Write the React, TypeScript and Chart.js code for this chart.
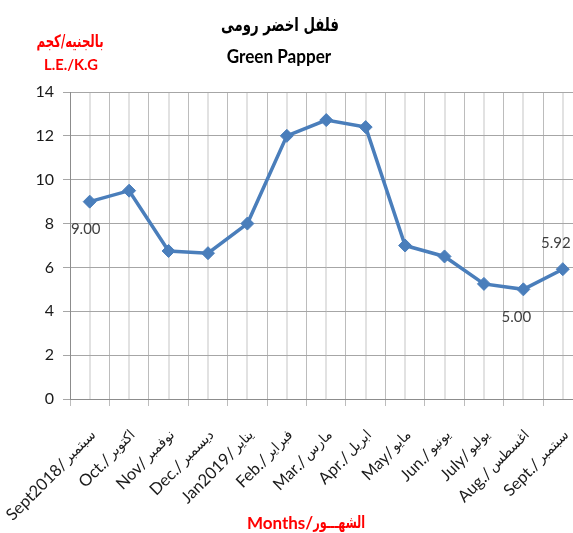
import React, { useEffect, useRef } from "react";
import { Chart, registerables } from "chart.js";

Chart.register(...registerables);

const monthsEn = [
  "Sept2018/",
  "Oct./",
  "Nov/",
  "Dec./",
  "Jan2019/",
  "Feb./",
  "Mar./",
  "Apr./",
  "May/",
  "Jun./",
  "July/",
  "Aug./",
  "Sept./",
];
const monthsAr = [
  "سبتمبر",
  "اكتوبر",
  "نوفمبر",
  "ديسمبر",
  "يناير",
  "فبراير",
  "مارس",
  "ابريل",
  "مايو",
  "يونيو",
  "يوليو",
  "اغسطس",
  "سبتمبر",
];
const months = monthsEn.map((m, i) => `${m} ${monthsAr[i]}`);
const prices = [9.0, 9.5, 6.75, 6.65, 8.0, 12.0, 12.72, 12.4, 7.0, 6.5, 5.25, 5.0, 5.92];
const yMin = 0;
const yMax = 14;
const yStep = 2;
const titleAr = "فلفل اخضر رومى";
const titleEn = "Green Papper";
const unitAr = "بالجنيه/كجم";
const unitEn = "L.E./K.G";
const xTitleEn = "Months/";
const xTitleAr = "الشهـــور";
const labeledPoints = [0, 11, 12];
const labelSides = ["below", "below", "above"];

const LATIN = "Lato, 'DejaVu Sans', sans-serif";
const ARABIC = "'DejaVu Sans', sans-serif";
const LINE_BLUE = "#4a7ebb";

type Part = { text: string; font: string; sx: number; gap?: number };

function partsWidth(ctx: CanvasRenderingContext2D, parts: Part[]) {
  let w = 0;
  for (const p of parts) {
    ctx.font = p.font;
    w += ctx.measureText(p.text).width * p.sx + (p.gap || 0);
  }
  return w;
}

// draws parts left-to-right, horizontally aligned by `align` around x=0
function drawParts(ctx: CanvasRenderingContext2D, parts: Part[], align: "center" | "right") {
  const total = partsWidth(ctx, parts);
  let cur = align === "center" ? -total / 2 : -total;
  ctx.textAlign = "left";
  for (const p of parts) {
    ctx.font = p.font;
    const w = ctx.measureText(p.text).width;
    ctx.save();
    ctx.translate(cur, 0);
    ctx.scale(p.sx, 1);
    ctx.fillText(p.text, 0, 0);
    ctx.restore();
    cur += w * p.sx + (p.gap || 0);
  }
}

const extraText = {
  id: "extraText",
  beforeDraw(chart: any) {
    const { ctx, chartArea, scales } = chart;
    const x = scales.x;
    ctx.save();
    ctx.strokeStyle = "#e2e2e2";
    ctx.lineWidth = 2;
    for (let i = 0; i < months.length; i++) {
      const px = Math.round(x.getPixelForValue(i));
      ctx.beginPath();
      ctx.moveTo(px, chartArea.top);
      ctx.lineTo(px, chartArea.bottom);
      ctx.stroke();
    }
    ctx.restore();
  },
  afterDraw(chart: any) {
    const { ctx, chartArea, scales } = chart;
    const x = scales.x;
    ctx.save();
    ctx.textBaseline = "middle";

    // x tick labels (Latin + Arabic), rotated -45deg, ending near the category center
    ctx.fillStyle = "#1a1a1a";
    for (let i = 0; i < months.length; i++) {
      const cx = x.getPixelForValue(i);
      ctx.save();
      ctx.translate(cx + 4, chartArea.bottom + 34);
      ctx.rotate(-Math.PI / 4);
      drawParts(
        ctx,
        [
          { text: monthsEn[i], font: `16.5px ${LATIN}`, sx: 1, gap: 2 },
          { text: monthsAr[i], font: `14px ${ARABIC}`, sx: 0.98 },
        ],
        "right"
      );
      ctx.restore();
    }

    // main title
    ctx.fillStyle = "#000";
    ctx.save();
    ctx.translate(280, 26);
    drawParts(ctx, [{ text: titleAr, font: `bold 19px ${ARABIC}`, sx: 0.7 }], "center");
    ctx.restore();
    ctx.save();
    ctx.translate(279, 57);
    drawParts(ctx, [{ text: titleEn, font: `bold 18px ${LATIN}`, sx: 0.95 }], "center");
    ctx.restore();

    // unit label
    ctx.fillStyle = "#ff0000";
    ctx.save();
    ctx.translate(70, 43);
    drawParts(ctx, [{ text: unitAr, font: `bold 17px ${ARABIC}`, sx: 0.69 }], "center");
    ctx.restore();
    ctx.save();
    ctx.translate(71, 65);
    drawParts(ctx, [{ text: unitEn, font: `bold 16px ${LATIN}`, sx: 0.92 }], "center");
    ctx.restore();

    // x axis title
    ctx.save();
    ctx.translate(306, 524);
    drawParts(
      ctx,
      [
        { text: xTitleEn, font: `bold 17px ${LATIN}`, sx: 1 },
        { text: xTitleAr, font: `bold 17px ${ARABIC}`, sx: 0.66 },
      ],
      "center"
    );
    ctx.restore();

    // data labels
    const meta = chart.getDatasetMeta(0);
    ctx.fillStyle = "#404040";
    ctx.font = `15px ${LATIN}`;
    ctx.textAlign = "center";
    labeledPoints.forEach((idx, k) => {
      const el = meta.data[idx];
      if (!el) return;
      const dy = labelSides[k] === "above" ? -26 : 28;
      const dx = idx === 0 ? -4 : -7;
      ctx.fillText(prices[idx].toFixed(2), el.x + dx, el.y + dy);
    });
    ctx.restore();
  },
};

export default function App() {
  const ref = useRef<HTMLCanvasElement | null>(null);
  useEffect(() => {
    document.body.style.margin = "0";
    document.body.style.overflow = "hidden";
    const canvas = ref.current;
    if (!canvas) return;
    const chart = new Chart(canvas, {
      type: "line",
      data: {
        labels: months,
        datasets: [
          {
            data: prices,
            borderColor: LINE_BLUE,
            backgroundColor: LINE_BLUE,
            borderWidth: 3.5,
            pointStyle: "rectRot",
            pointRadius: 6.5,
            pointBackgroundColor: LINE_BLUE,
            pointBorderColor: LINE_BLUE,
            pointBorderWidth: 1,
            tension: 0,
            clip: false as any,
          },
        ],
      },
      options: {
        animation: false,
        responsive: false,
        events: [],
        layout: { padding: { top: 92, left: 0, right: 4, bottom: 0 } },
        plugins: {
          legend: { display: false },
          title: { display: false },
          tooltip: { enabled: false },
        },
        scales: {
          x: {
            type: "category",
            offset: true,
            grid: {
              offset: true,
              color: "#bcbcbc",
              lineWidth: 1,
              tickLength: 7,
              drawTicks: true,
            },
            border: { color: "#8c8c8c", width: 1 },
            ticks: { display: false, autoSkip: false },
            afterFit: (scale: any) => {
              scale.height = 134;
              scale.paddingLeft = 0;
              scale.paddingRight = 0;
            },
          },
          y: {
            min: yMin,
            max: yMax,
            grid: {
              color: "#a6a6a6",
              lineWidth: 1,
              tickLength: 7,
            },
            border: { color: "#8c8c8c", width: 1 },
            ticks: {
              stepSize: yStep,
              padding: 9,
              color: "#1a1a1a",
              font: { family: LATIN, size: 16 },
            },
            afterFit: (scale: any) => {
              scale.width = 70;
            },
          },
        },
      },
      plugins: [extraText],
    });
    return () => chart.destroy();
  }, []);

  return (
    <div style={{ width: 573, height: 533, overflow: "hidden", position: "relative", background: "#fff" }}>
      <canvas ref={ref} width={590} height={533} style={{ display: "block" }} />
    </div>
  );
}
